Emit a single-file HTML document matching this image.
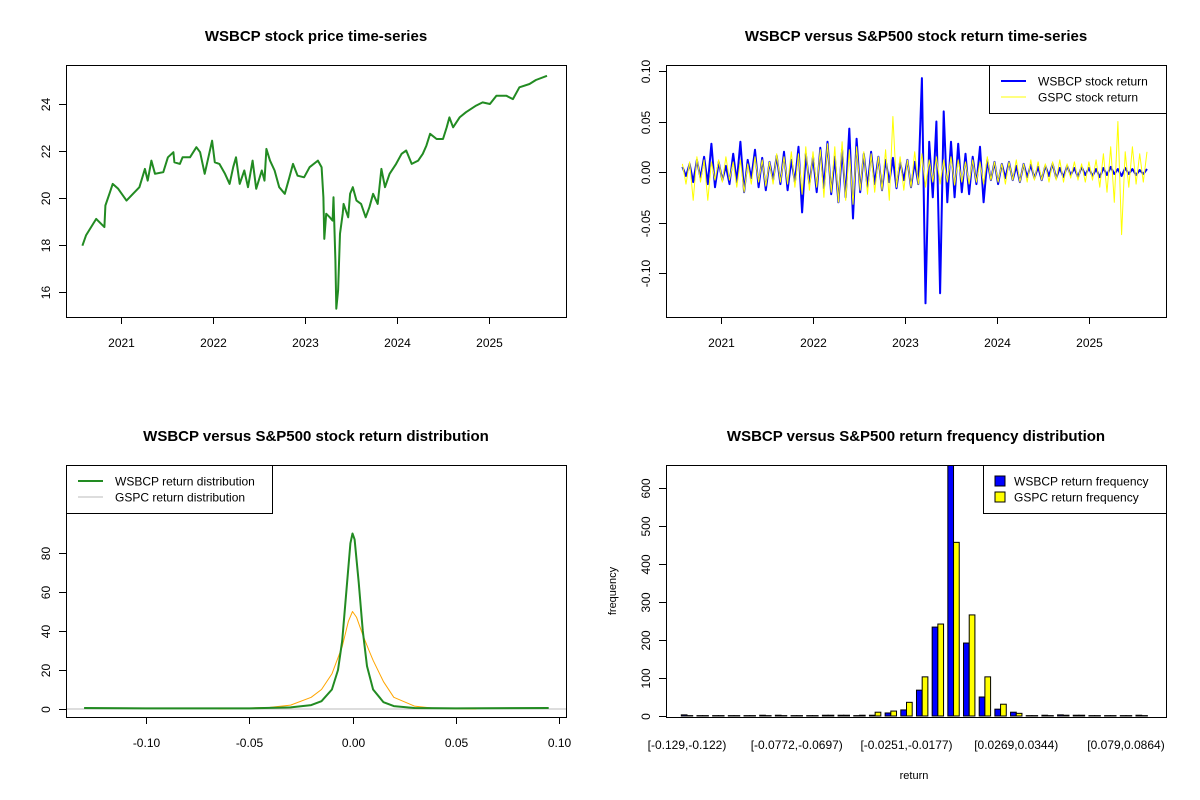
<!DOCTYPE html>
<html><head><meta charset="utf-8"><style>
body{margin:0;background:#fff}
svg{display:block;font-family:"Liberation Sans",Arial,sans-serif}
</style></head><body>
<svg id="c" width="1200" height="800" viewBox="0 0 1200 800"></svg>
<script>
// ---- Panel 1: price ----
const priceYears=[2020.58,2020.62,2020.73,2020.82,2020.83,2020.88,2020.91,2020.97,2021.06,2021.13,2021.20,2021.26,2021.29,2021.33,2021.37,2021.46,2021.51,2021.57,2021.58,2021.64,2021.67,2021.75,2021.82,2021.86,2021.91,2021.95,2021.99,2022.02,2022.07,2022.13,2022.18,2022.22,2022.25,2022.29,2022.34,2022.38,2022.43,2022.47,2022.53,2022.56,2022.58,2022.62,2022.67,2022.72,2022.78,2022.83,2022.87,2022.92,2022.99,2023.05,2023.14,2023.18,2023.20,2023.21,2023.23,2023.27,2023.30,2023.31,2023.33,2023.34,2023.36,2023.38,2023.41,2023.42,2023.47,2023.49,2023.52,2023.56,2023.61,2023.66,2023.70,2023.74,2023.79,2023.83,2023.87,2023.92,2023.99,2024.05,2024.10,2024.16,2024.23,2024.28,2024.32,2024.36,2024.43,2024.50,2024.54,2024.57,2024.61,2024.68,2024.75,2024.86,2024.93,2025.01,2025.08,2025.19,2025.26,2025.33,2025.44,2025.51,2025.63];
const priceValues=[17.97,18.41,19.11,18.76,19.68,20.25,20.6,20.39,19.89,20.18,20.46,21.24,20.74,21.59,21.03,21.1,21.73,21.95,21.52,21.45,21.73,21.73,22.16,21.95,21.03,21.73,22.44,21.52,21.45,21.03,20.6,21.31,21.73,20.6,21.17,20.46,21.59,20.39,21.17,20.74,22.09,21.59,21.17,20.46,20.18,20.88,21.45,20.95,20.88,21.31,21.59,21.31,20.03,18.26,19.33,19.18,19.04,20.03,17.34,15.29,16.07,18.48,19.33,19.75,19.18,20.18,20.46,19.89,19.75,19.18,19.61,20.18,19.75,21.24,20.46,21.03,21.45,21.88,22.02,21.45,21.59,21.88,22.23,22.73,22.51,22.51,23.01,23.43,23.01,23.43,23.65,23.93,24.07,24.0,24.35,24.35,24.21,24.71,24.85,25.02,25.2];
const yearTicks=[2021,2022,2023,2024,2025];
const priceTicks=[16,18,20,22,24];
// ---- Panel 2: returns ----
const wsbcpReturns=[0.005,-0.004,0.008,-0.010,0.012,-0.006,0.015,-0.012,0.028,-0.015,
0.010,-0.008,0.006,-0.012,0.018,-0.010,0.030,-0.020,0.012,-0.006,
0.022,-0.015,0.014,-0.018,0.010,-0.008,0.016,-0.012,0.020,-0.018,
0.012,-0.010,0.025,-0.040,0.018,-0.012,0.015,-0.020,0.024,-0.016,
0.030,-0.022,0.015,-0.030,0.022,-0.025,0.043,-0.046,0.033,-0.020,
0.018,-0.015,0.020,-0.012,0.015,-0.018,0.012,-0.010,0.014,-0.016,
0.010,-0.008,0.012,-0.015,0.010,-0.012,0.093,-0.130,0.030,-0.025,
0.050,-0.120,0.060,-0.030,0.030,-0.025,0.028,-0.020,0.018,-0.022,
0.015,-0.012,0.025,-0.030,0.012,-0.008,0.010,-0.012,0.008,-0.006,
0.010,-0.008,0.006,-0.010,0.008,-0.005,0.007,-0.006,0.005,-0.008,
0.006,-0.004,0.008,-0.006,0.004,-0.005,0.006,-0.003,0.004,-0.005,
0.005,-0.003,0.004,-0.004,0.003,-0.005,0.004,-0.003,0.005,-0.002,
0.003,-0.004,0.004,-0.002,0.003,-0.003,0.002,-0.002,0.003];
const gspcReturns=[0.008,-0.012,0.010,-0.028,0.015,-0.010,0.012,-0.028,0.010,-0.008,
0.012,-0.010,0.015,-0.008,0.010,-0.015,0.012,-0.020,0.008,-0.012,
0.015,-0.010,0.012,-0.014,0.010,-0.012,0.018,-0.010,0.015,-0.012,
0.020,-0.015,0.018,-0.022,0.025,-0.018,0.020,-0.015,0.022,-0.025,
0.028,-0.020,0.025,-0.030,0.030,-0.028,0.022,-0.032,0.025,-0.018,
0.020,-0.022,0.018,-0.020,0.015,-0.018,0.022,-0.028,0.055,-0.015,
0.015,-0.018,0.012,-0.015,0.020,-0.012,0.018,-0.015,0.012,-0.010,
0.015,-0.012,0.012,-0.010,0.015,-0.013,0.012,-0.010,0.010,-0.012,
0.012,-0.010,0.010,-0.012,0.015,-0.008,0.010,-0.010,0.008,-0.012,
0.010,-0.008,0.012,-0.010,0.008,-0.010,0.012,-0.008,0.010,-0.008,
0.008,-0.010,0.010,-0.008,0.012,-0.010,0.008,-0.006,0.010,-0.008,
0.008,-0.010,0.010,-0.008,0.012,-0.015,0.018,-0.020,0.025,-0.030,
0.050,-0.062,0.020,-0.015,0.025,-0.012,0.018,-0.010,0.020];
const returnTicks=[-0.10,-0.05,0.00,0.05,0.10];
const returnTickLabels=["-0.10","-0.05","0.00","0.05","0.10"];
// ---- Panel 3: density ----
const wsbcpDensX=[-0.13,-0.1,-0.05,-0.03,-0.02,-0.015,-0.01,-0.007,-0.005,-0.003,-0.001,0,0.001,0.003,0.005,0.007,0.01,0.015,0.02,0.03,0.05,0.095];
const wsbcpDensY=[0.5,0.3,0.3,0.8,2,4,10,20,35,60,85,90,87,65,40,22,10,3.5,1.5,0.5,0.3,0.5];
const gspcDensX=[-0.065,-0.04,-0.03,-0.02,-0.015,-0.01,-0.005,-0.002,0,0.002,0.005,0.008,0.01,0.015,0.02,0.03,0.04,0.06];
const gspcDensY=[0,0.8,2,6,10,18,32,45,50,47,38,30,25,14,6,1.5,0.3,0];
const densXTicks=[-0.10,-0.05,0.00,0.05,0.10];
const densXLabels=["-0.10","-0.05","0.00","0.05","0.10"];
const densYTicks=[0,20,40,60,80];
// ---- Panel 4: histogram ----
const wsbcpFreq=[3,1,1,1,1,2,2,1,1,2,2,1,2,8,16,68,234,700,192,50,18,10,1,2,3,2,1,1,1,2];
const gspcFreq=[1,1,1,1,1,1,1,1,1,2,2,2,10,13,36,103,242,457,266,103,31,7,1,1,2,2,1,1,1,1];
const binLabels=["[-0.129,-0.122)","[-0.0772,-0.0697)","[-0.0251,-0.0177)","[0.0269,0.0344)","[0.079,0.0864)"];
const binLabelIdx=[0,7,14,21,28];
const freqTicks=[0,100,200,300,400,500,600];

const svg=document.getElementById('c');
const NS='http://www.w3.org/2000/svg';
function mk(tag,attrs,parent){const e=document.createElementNS(NS,tag);for(const k in attrs)e.setAttribute(k,attrs[k]);(parent||svg).appendChild(e);return e;}
function txt(s,x,y,size,anchor,weight,rot,parent){const t=mk('text',{x:x,y:y,'font-size':size,'text-anchor':anchor||'middle','font-weight':weight||'normal',fill:'#000'},parent);if(rot)t.setAttribute('transform','rotate(-90 '+x+' '+y+')');t.textContent=s;return t;}
function lin(d0,d1,r0,r1){return v=>r0+(v-d0)/(d1-d0)*(r1-r0);}

function panel(name,L,T,R,B,title){
  const g=mk('g',{});
  
  
  const t=txt(title,(L+R)/2,41+(T-65),15,'middle','bold',false,g);
  
  
  const cp=mk('clipPath',{id:'clip-'+name},g);mk('rect',{x:L,y:T,width:R-L,height:B-T},cp);
  return g;
}
function frame(g,L,T,R,B){const f=mk('rect',{x:L+0.5,y:T+0.5,width:R-L,height:B-T,fill:'none',stroke:'#000','stroke-width':1},g);}
function xaxis(g,ticks,labels,sx,B){
  const a=mk('g',{},g);
  mk('line',{x1:sx(ticks[0]),x2:sx(ticks[ticks.length-1]),y1:B+0.5,y2:B+0.5,stroke:'#000'},a);
  ticks.forEach((v,i)=>{const x=Math.round(sx(v))+0.5;mk('line',{x1:x,x2:x,y1:B,y2:B+7,stroke:'#000'},a);
    const t=txt(labels[i],x,B+30,12,'middle','normal',false,a);});
}
function yaxis(g,ticks,labels,sy,L){
  const a=mk('g',{},g);
  mk('line',{x1:L+0.5,x2:L+0.5,y1:sy(ticks[0]),y2:sy(ticks[ticks.length-1]),stroke:'#000'},a);
  ticks.forEach((v,i)=>{const y=Math.round(sy(v))+0.5;mk('line',{x1:L-7,x2:L,y1:y,y2:y,stroke:'#000'},a);
    const t=txt(labels[i],L-16,y,12,'middle','normal',true,a);});
}
function poly(g,xs,ys,sx,sy,color,w,name,clip){
  const p=xs.map((x,i)=>sx(x).toFixed(1)+','+sy(ys[i]).toFixed(1)).join(' ');
  const e=mk('polyline',{points:p,fill:'none',stroke:color,'stroke-width':w,'stroke-linejoin':'round'},g);
  if(clip)e.setAttribute('clip-path','url(#'+clip+')');
  
  
  return e;
}
function legend(g,x,y,w,h,items){
  const lg=mk('g',{},g);
  mk('rect',{x:x+0.5,y:y+0.5,width:w,height:h,fill:'#fff',stroke:'#000'},lg);
  items.forEach((it,i)=>{const yy=y+16+i*16;
    const e=mk('g',{},lg);
    if(it.box){mk('rect',{x:x+12,y:yy-5,width:10,height:10,fill:it.color,stroke:'#000'},e);}
    else mk('line',{x1:x+12,x2:x+37,y1:yy,y2:yy,stroke:it.color,'stroke-width':it.w},e);
    txt(it.label,x+(it.box?31:49),yy+4.5,12,'start','normal',false,e);});
}

// Panel 1
(function(){const L=66,T=65,R=566,B=317;const g=panel('price-panel',L,T,R,B,'WSBCP stock price time-series');
 const sx=lin(2021,2025,121,489), sy=lin(16,24,292,104);
 poly(g,priceYears,priceValues,sx,sy,'#228B22',2,'price-line');
 frame(g,L,T,R,B);xaxis(g,yearTicks,yearTicks.map(String),sx,B);yaxis(g,priceTicks,priceTicks.map(String),sy,L);})();

// Panel 2
(function(){const L=666,T=65,R=1166,B=317;const g=panel('return-panel',L,T,R,B,'WSBCP versus S&P500 stock return time-series');
 const sx=lin(2021,2025,721,1089), sy=lin(0,0.1,172,71);
 const start=2020.58,end=2025.63;
 const yb=wsbcpReturns.map((_,i)=>start+i*(end-start)/(wsbcpReturns.length-1));
 const yg=gspcReturns.map((_,i)=>start+i*(end-start)/(gspcReturns.length-1));
 poly(g,yb,wsbcpReturns,sx,sy,'#0000FF',2,'wsbcp-return-line');
 poly(g,yg,gspcReturns,sx,sy,'#FFFF00',1,'gspc-return-line');
 frame(g,L,T,R,B);xaxis(g,yearTicks,yearTicks.map(String),sx,B);yaxis(g,returnTicks,returnTickLabels,sy,L);
 legend(g,989,65,177,48,[{label:'WSBCP stock return',color:'#0000FF',w:2},{label:'GSPC stock return',color:'#FFFF00',w:1}]);})();

// Panel 3
(function(){const L=66,T=465,R=566,B=717;const g=panel('density-panel',L,T,R,B,'WSBCP versus S&P500 stock return distribution');
 const sx=lin(-0.1,0.1,146,559), sy=lin(0,80,709,553);
 const z=mk('line',{x1:L,x2:R,y1:sy(0),y2:sy(0),stroke:'#bbb'},g);
 poly(g,gspcDensX,gspcDensY,sx,sy,'#FFA500',1,'gspc-density-line');
 poly(g,wsbcpDensX,wsbcpDensY,sx,sy,'#228B22',2,'wsbcp-density-line');
 frame(g,L,T,R,B);xaxis(g,densXTicks,densXLabels,sx,B);yaxis(g,densYTicks,densYTicks.map(String),sy,L);
 legend(g,66,465,206,48,[{label:'WSBCP return distribution',color:'#228B22',w:2},{label:'GSPC return distribution',color:'#bbb',w:1}]);})();

// Panel 4
(function(){const L=666,T=465,R=1166,B=717;const g=panel('histogram-panel',L,T,R,B,'WSBCP versus S&P500 return frequency distribution');
 const bx=i=>687+i*(1126-687)/28, sy=lin(0,600,716,488);
 const bw=5.7;
 const bars=mk('g',{'clip-path':'url(#clip-histogram-panel)'},g);
 wsbcpFreq.forEach((v,i)=>{const r=mk('rect',{x:bx(i)-bw,y:sy(v),width:bw,height:sy(0)-sy(v),fill:'#0000FF',stroke:'#000','stroke-width':1},bars);
   });
 gspcFreq.forEach((v,i)=>{const r=mk('rect',{x:bx(i),y:sy(v),width:bw,height:sy(0)-sy(v),fill:'#FFFF00',stroke:'#000','stroke-width':1},bars);
   });
 frame(g,L,T,R,B);
 const a=mk('g',{},g);
 binLabelIdx.forEach((b,i)=>{const t=txt(binLabels[i],bx(b),B+32,12,'middle','normal',false,a);});
 yaxis(g,freqTicks,freqTicks.map(String),sy,L);
 const xl=txt('return',914,779,11,'middle','normal',false,g);
 const yl=txt('frequency',616,591,11,'middle','normal',true,g);
 legend(g,983,465,183,48,[{label:'WSBCP return frequency',color:'#0000FF',box:true},{label:'GSPC return frequency',color:'#FFFF00',box:true}]);})();
</script>
</body></html>
